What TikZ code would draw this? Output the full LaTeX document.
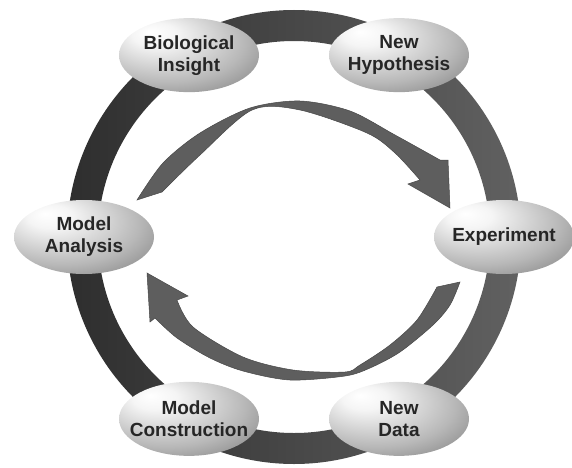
\documentclass[tikz,border=0pt]{standalone}
\usepackage{fontspec}
\setmainfont{Liberation Sans}
\usepackage{tikz}
\usetikzlibrary{shapes.geometric}

\pgfdeclareradialshading{stageball}{\pgfpoint{-14bp}{16bp}}{%
  color(0bp)=(white); color(8bp)=(black!4); color(28bp)=(black!28);
  color(48bp)=(black!58); color(66bp)=(black!78)}

\begin{document}
\begin{tikzpicture}[x=1pt,y=1pt,
    stage/.style={ellipse, shade, shading=stageball, minimum width=140pt,
      minimum height=74pt, inner xsep=-15pt, inner ysep=-6pt, align=center,
      text=black!85, font=\bfseries\fontsize{19}{22}\selectfont},
    band/.style={fill=black!63, draw=black!72, line width=0.5pt}]
\useasboundingbox (0,0) rectangle (572,467);

% ring
\shade[left color=black!82, right color=black!62, even odd rule]
  (294,230) circle (227pt) (294,230) circle (196pt);

% upper arrow
\fill[band] (137,267) -- plot[smooth] coordinates {(137,267) (163,304) (200,334)
    (250,359) (300,366) (350,356) (395,332) (440,307)}
  -- (448,307) -- (450,259) -- (408,283) -- (420,287)
  -- plot[smooth] coordinates {(420,287) (395,314) (367,334) (300,357)
    (252,357) (200,312) (162,275)} -- cycle;

% lower arrow
\fill[band] (147,194) -- (188,171) -- (177,167)
  -- plot[smooth] coordinates {(177,167) (193,140) (243,110) (293,97)
    (345,95) (360,102) (390,122) (417,147) (437,180)}
  -- (460,185)
  -- plot[smooth] coordinates {(460,185) (450,162) (433,142) (400,115)
    (370,99) (345,91) (290,87) (243,96) (210,109) (177,129) (155,149)}
  -- (150,145) -- cycle;

\begin{scope}[shift={(294,230)}]
\node[stage] (exp) at (0:210) {Experiment};
\node[stage] (hyp) at (60:210) {New\\Hypothesis};
\node[stage] (bio) at (120:210) {Biological\\Insight};
\node[stage] (ana) at (180:210) {Model\\Analysis};
\node[stage] (con) at (240:210) {Model\\Construction};
\node[stage] (dat) at (300:210) {New\\Data};
\end{scope}
\end{tikzpicture}
\end{document}
